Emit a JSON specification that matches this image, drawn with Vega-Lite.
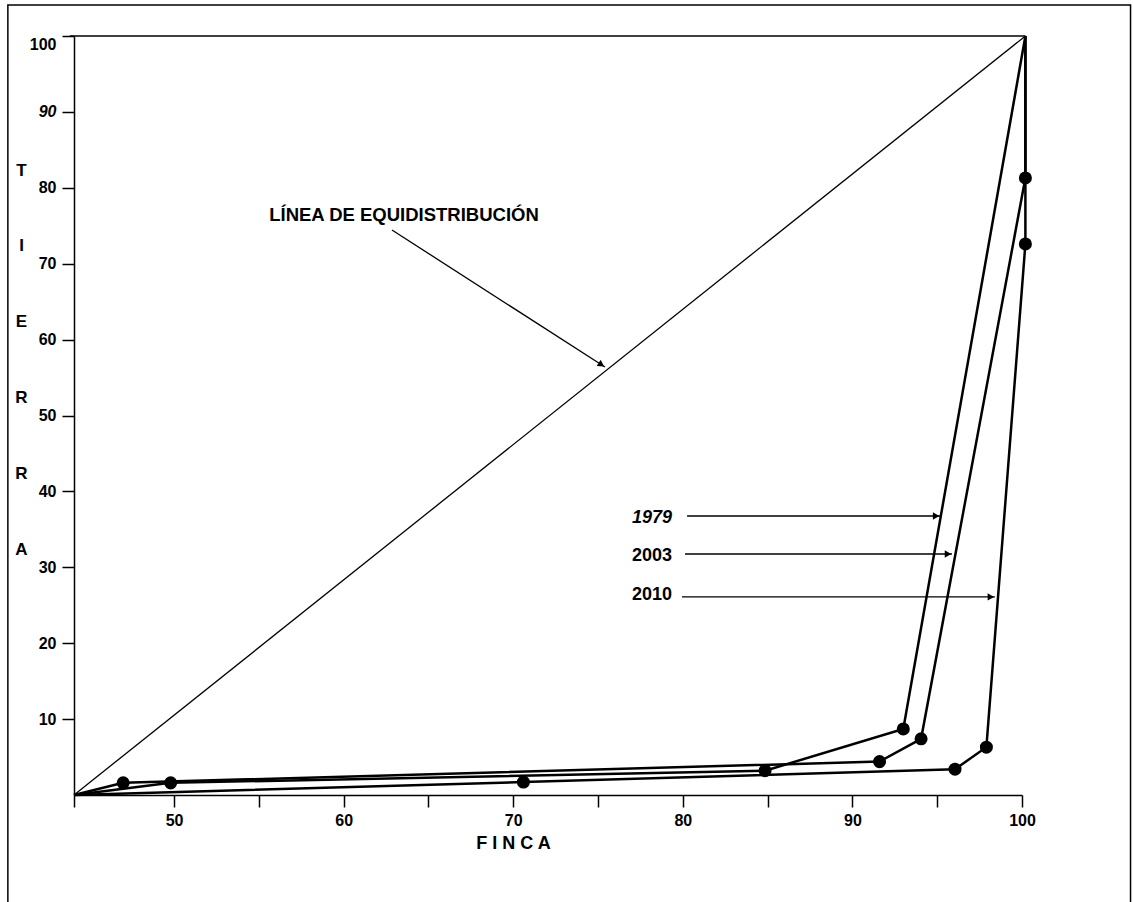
{
  "$schema": "https://vega.github.io/schema/vega-lite/v6.json",
  "width": 948,
  "height": 759,
  "autosize": {"type": "none"},
  "padding": {"left": 74, "top": 36, "right": 111, "bottom": 107},
  "background": "white",
  "config": {"view": {"stroke": null}, "font": "Liberation Sans"},
  "datasets": {
    "curvas": [
      {"serie": "1979", "orden": 0, "finca": 44.1, "tierra": 0},
      {"serie": "1979", "orden": 1, "finca": 49.8, "tierra": 1.6},
      {"serie": "1979", "orden": 2, "finca": 84.85, "tierra": 3.2},
      {"serie": "1979", "orden": 3, "finca": 93.0, "tierra": 8.7},
      {"serie": "1979", "orden": 4, "finca": 100.2, "tierra": 100},
      {"serie": "2003", "orden": 0, "finca": 44.1, "tierra": 0},
      {"serie": "2003", "orden": 1, "finca": 47.0, "tierra": 1.6},
      {"serie": "2003", "orden": 2, "finca": 91.6, "tierra": 4.4},
      {"serie": "2003", "orden": 3, "finca": 94.05, "tierra": 7.4},
      {"serie": "2003", "orden": 4, "finca": 100.2, "tierra": 81.3},
      {"serie": "2003", "orden": 5, "finca": 100.2, "tierra": 100},
      {"serie": "2010", "orden": 0, "finca": 44.1, "tierra": 0},
      {"serie": "2010", "orden": 1, "finca": 70.6, "tierra": 1.7},
      {"serie": "2010", "orden": 2, "finca": 96.05, "tierra": 3.4},
      {"serie": "2010", "orden": 3, "finca": 97.9, "tierra": 6.3},
      {"serie": "2010", "orden": 4, "finca": 100.2, "tierra": 72.6},
      {"serie": "2010", "orden": 5, "finca": 100.2, "tierra": 100}
    ],
    "equi": [
      {"orden": 0, "finca": 44.1, "tierra": 0},
      {"orden": 1, "finca": 100.2, "tierra": 100}
    ],
    "marco": [
      {"finca": 40.2, "finca2": 106.4, "tierra": -14.5, "tierra2": 104.1}
    ],
    "tope": [
      {"finca": 43.86, "finca2": 100.2, "tierra": 100}
    ],
    "flechas": [
      {"nombre": "equi", "finca": 62.85, "tierra": 74.44, "finca2": 75.41, "tierra2": 56.39},
      {"nombre": "1979", "finca": 80.25, "tierra": 36.76, "finca2": 95.17, "tierra2": 36.76},
      {"nombre": "2003", "finca": 80.13, "tierra": 31.75, "finca2": 95.87, "tierra2": 31.75},
      {"nombre": "2010", "finca": 79.95, "tierra": 26.1, "finca2": 98.4, "tierra2": 26.1}
    ],
    "puntas": [
      {"nombre": "equi", "finca": 75.41, "tierra": 56.39},
      {"nombre": "1979", "finca": 95.17, "tierra": 36.76},
      {"nombre": "2003", "finca": 95.87, "tierra": 31.75},
      {"nombre": "2010", "finca": 98.4, "tierra": 26.1}
    ],
    "etiquetas": [
      {"texto": "1979", "finca": 79.36, "tierra": 36.5},
      {"texto": "2003", "finca": 79.36, "tierra": 31.5},
      {"texto": "2010", "finca": 79.36, "tierra": 26.3}
    ],
    "titulo": [
      {"texto": "LÍNEA DE EQUIDISTRIBUCIÓN", "finca": 63.56, "tierra": 76.4}
    ]
  },
  "encoding": {
    "x": {
      "field": "finca",
      "type": "quantitative",
      "scale": {"domain": [44.1, 100], "nice": false, "zero": false},
      "axis": {
        "title": "F I N C A",
        "values": [44.1, 50, 55, 60, 65, 70, 75, 80, 85, 90, 95, 100],
        "labelExpr": "datum.value % 10 == 0 ? datum.label : ''",
        "grid": false,
        "domainColor": "black",
        "domainWidth": 1.5,
        "tickColor": "black",
        "tickWidth": 1.5,
        "tickSize": 12,
        "labelFont": "Liberation Sans",
        "labelFontSize": 16,
        "labelFontWeight": "bold",
        "labelColor": "black",
        "labelPadding": 5,
        "labelFlush": false,
        "titleFont": "Liberation Sans",
        "titleFontSize": 18,
        "titleFontWeight": "bold",
        "titleColor": "black",
        "titleX": 439,
        "titleY": 53,
        "titleBaseline": "alphabetic"
      }
    },
    "y": {
      "field": "tierra",
      "type": "quantitative",
      "scale": {"domain": [0, 100], "nice": false, "zero": false},
      "axis": {
        "title": ["T", "I", "E", "R", "R", "A"],
        "values": [10, 20, 30, 40, 50, 60, 70, 80, 90, 100],
        "grid": false,
        "domainColor": "black",
        "domainWidth": 1.5,
        "tickColor": "black",
        "tickWidth": 1.5,
        "tickSize": 12,
        "labelFont": "Liberation Sans",
        "labelFontSize": 16,
        "labelFontWeight": "bold",
        "labelColor": "black",
        "labelPadding": 6,
        "labelFlush": true,
        "labelFontStyle": {"condition": {"test": "datum.value == 90", "value": "italic"}, "value": "normal"},
        "titleAngle": 0,
        "titleFont": "Liberation Sans",
        "titleFontSize": 17,
        "titleFontWeight": "bold",
        "titleColor": "black",
        "titleLineHeight": 75.8,
        "titleX": -53,
        "titleY": 126,
        "titleAlign": "center",
        "titleBaseline": "top"
      }
    }
  },
  "layer": [
    {
      "data": {"name": "marco"},
      "mark": {"type": "rect", "fill": "transparent", "stroke": "black", "strokeWidth": 1.5},
      "encoding": {"x2": {"field": "finca2"}, "y2": {"field": "tierra2"}}
    },
    {
      "data": {"name": "tope"},
      "mark": {"type": "rule", "color": "black", "strokeWidth": 1.5},
      "encoding": {"x2": {"field": "finca2"}}
    },
    {
      "data": {"name": "equi"},
      "mark": {"type": "line", "color": "black", "strokeWidth": 1.3},
      "encoding": {"order": {"field": "orden", "type": "quantitative"}}
    },
    {
      "data": {"name": "curvas"},
      "mark": {"type": "line", "color": "black", "strokeWidth": 2.5},
      "encoding": {
        "detail": {"field": "serie", "type": "nominal"},
        "order": {"field": "orden", "type": "quantitative"}
      }
    },
    {
      "data": {"name": "curvas"},
      "transform": [{"filter": "datum.tierra > 0 && datum.tierra < 100"}],
      "mark": {"type": "point", "shape": "circle", "filled": true, "color": "black", "opacity": 1, "size": 170}
    },
    {
      "data": {"name": "flechas"},
      "mark": {"type": "rule", "color": "black", "strokeWidth": 1.3},
      "encoding": {"x2": {"field": "finca2"}, "y2": {"field": "tierra2"}}
    },
    {
      "data": {"name": "puntas"},
      "transform": [{"filter": "datum.nombre != 'equi'"}],
      "mark": {"type": "point", "shape": "triangle-right", "filled": true, "color": "black", "opacity": 1, "size": 55, "xOffset": -4}
    },
    {
      "data": {"name": "puntas"},
      "transform": [{"filter": "datum.nombre == 'equi'"}],
      "mark": {"type": "point", "shape": "triangle-up", "filled": true, "color": "black", "opacity": 1, "size": 55, "angle": 123, "xOffset": -3.6, "yOffset": -2.3}
    },
    {
      "data": {"name": "etiquetas"},
      "transform": [{"filter": "datum.texto == '1979'"}],
      "mark": {"type": "text", "font": "Liberation Sans", "fontSize": 18, "fontWeight": "bold", "fontStyle": "italic", "align": "right", "baseline": "middle", "color": "black"},
      "encoding": {"text": {"field": "texto"}}
    },
    {
      "data": {"name": "etiquetas"},
      "transform": [{"filter": "datum.texto != '1979'"}],
      "mark": {"type": "text", "font": "Liberation Sans", "fontSize": 18, "fontWeight": "bold", "align": "right", "baseline": "middle", "color": "black"},
      "encoding": {"text": {"field": "texto"}}
    },
    {
      "data": {"name": "titulo"},
      "mark": {"type": "text", "font": "Liberation Sans", "fontSize": 18.5, "fontWeight": "bold", "align": "center", "baseline": "middle", "color": "black"},
      "encoding": {"text": {"field": "texto"}}
    }
  ]
}
